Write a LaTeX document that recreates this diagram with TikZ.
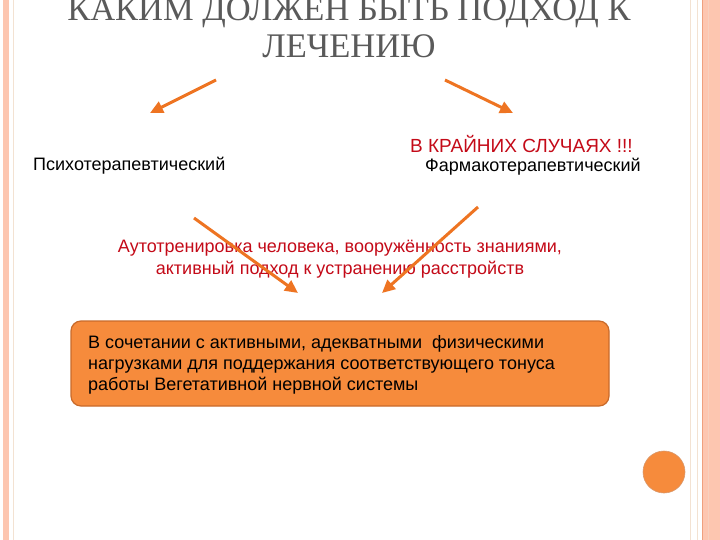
\documentclass[tikz,border=0pt]{standalone}
\usepackage{fontspec}
\setmainfont{Liberation Serif}
\newfontfamily\arialf{Liberation Sans}
\usetikzlibrary{arrows.meta}
\definecolor{pinkb}{HTML}{FDC6B0}
\definecolor{beigel}{HTML}{F3E2D2}
\definecolor{orline}{HTML}{EFA07E}
\definecolor{arrowor}{HTML}{EE7422}
\definecolor{boxfill}{HTML}{F68B3C}
\definecolor{boxdraw}{HTML}{C96A2A}
\definecolor{titlegray}{HTML}{5A5A5A}
\definecolor{redtxt}{HTML}{C40A18}
\tikzset{
  title/.style={font=\fontsize{34.5}{37}\selectfont, text=titlegray, align=center, inner sep=0pt},
  label/.style={font=\arialf\fontsize{18}{21}\selectfont, inner sep=0pt},
  redlabel/.style={font=\arialf\fontsize{18}{22}\selectfont, text=redtxt, align=center, inner sep=0pt},
  arr/.style={draw=arrowor, line width=3pt, -{Triangle[length=13pt,width=12pt]}},
  bigbox/.style={draw=boxdraw, line width=1.2pt, fill=boxfill, rounded corners=10pt, minimum width=538pt, minimum height=85pt, inner sep=0pt},
  boxtext/.style={font=\arialf\fontsize{18}{21}\selectfont, align=left, inner sep=0pt, anchor=north west},
  dot/.style={circle, fill=boxfill, draw=boxdraw!70, line width=0.6pt, minimum size=42pt, inner sep=0pt}
}
\begin{document}
\begin{tikzpicture}[x=1pt,y=-1pt]
\useasboundingbox (0,0) rectangle (720,540);
\fill[white] (0,0) rectangle (720,540);
% left border
\fill[pinkb] (3,0) rectangle (9,540);
\draw[beigel, line width=1pt] (13,0) -- (13,540);
% right border
\draw[beigel, line width=1pt] (690,0) -- (690,540);
\draw[beigel, line width=1pt] (697,0) -- (697,540);
\fill[pinkb] (702,0) rectangle (720,540);
\draw[orline, line width=1pt] (702,0) -- (702,540);
\draw[orline!50, line width=0.6pt] (708,0) -- (708,540);
% title
\node[title] (t) at (349,28) {КАКИМ ДОЛЖЕН БЫТЬ ПОДХОД К\\ЛЕЧЕНИЮ};
% arrows from title
\coordinate (a1s) at (216,80);
\coordinate (a1e) at (150,113);
\coordinate (a2s) at (445,80);
\coordinate (a2e) at (513,113);
\draw[arr] (a1s) -- (a1e);
\draw[arr] (a2s) -- (a2e);
% labels
\node[label, anchor=west] (psy) at (33,166) {Психотерапевтический};
\node[redlabel, anchor=west, font=\arialf\fontsize{19}{22}\selectfont] (crit) at (410,144) {В КРАЙНИХ СЛУЧАЯХ !!!};
\node[label, anchor=west] (farm) at (425,167) {Фармакотерапевтический};
% red text
\node[redlabel] (auto) at (340,259) {Аутотренировка человека, вооружённость знаниями,\\активный подход к устранению расстройств};
% crossing arrows
\coordinate (a3s) at (194,218);
\coordinate (a3e) at (298,293);
\coordinate (a4s) at (478,207);
\coordinate (a4e) at (382,293);
\draw[arr] (a3s) -- (a3e);
\draw[arr] (a4s) -- (a4e);
% box
\node[bigbox] (box) at (340,363.5) {};
\node[boxtext] (btxt) at (88,335) {В сочетании с активными, адекватными\ \ физическими\\нагрузками для поддержания соответствующего тонуса\\работы Вегетативной нервной системы};
% circle
\node[dot] (c) at (664,472) {};
\end{tikzpicture}
\end{document}
